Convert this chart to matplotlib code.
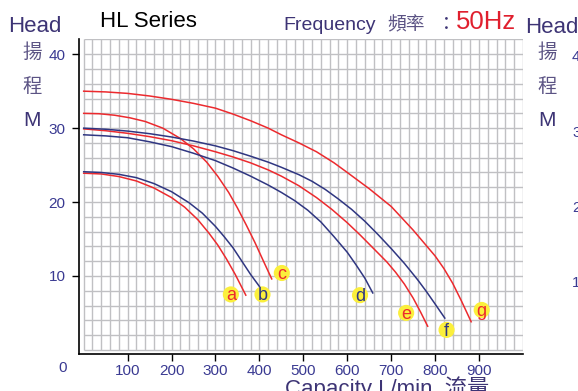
import matplotlib
matplotlib.use('Agg')
import matplotlib.pyplot as plt
import numpy as np

plt.rcParams['font.family'] = ['Liberation Sans', 'Noto Sans CJK TC']

# pump curves, capacity L/min vs head m
a_q = [0, 40, 80, 120, 160, 200, 230, 260, 285, 305, 325, 345, 369]
a_h = [23.9, 23.8, 23.45, 22.85, 21.9, 20.6, 19.3, 17.6, 15.8, 14.2, 12.3, 10.2, 7.4]

b_q = [0, 40, 80, 120, 160, 200, 240, 270, 300, 320, 340, 360, 380, 401]
b_h = [24.1, 24.0, 23.75, 23.3, 22.5, 21.4, 19.9, 18.5, 16.7, 15.3, 13.8, 12.0, 10.2, 8.5]

c_q = [0, 35, 70, 105, 140, 180, 220, 250, 280, 305, 330, 350, 370, 390, 410, 428]
c_h = [32.0, 31.95, 31.75, 31.4, 30.9, 30.0, 28.6, 27.2, 25.4, 23.5, 21.3, 19.2,
       16.9, 14.5, 11.9, 9.6]

d_q = [0, 50, 100, 150, 200, 250, 300, 340, 380, 420, 450, 480, 510, 540, 570,
       600, 620, 640, 658]
d_h = [29.1, 28.95, 28.7, 28.15, 27.5, 26.6, 25.6, 24.6, 23.5, 22.3, 21.3, 20.2,
       18.9, 17.3, 15.3, 13.2, 11.5, 9.7, 7.7]

e_q = [0, 50, 100, 150, 200, 250, 300, 340, 380, 420, 450, 490, 530, 565, 600,
       630, 660, 690, 710, 730, 750, 767, 783]
e_h = [29.9, 29.65, 29.3, 28.85, 28.3, 27.6, 26.8, 26.1, 25.3, 24.35, 23.5, 22.2,
       20.6, 19.0, 17.2, 15.5, 13.7, 11.9, 10.5, 8.9, 7.0, 5.1, 3.2]

f_q = [0, 50, 100, 150, 200, 250, 300, 340, 380, 420, 450, 490, 520, 550, 580,
       610, 640, 670, 700, 730, 760, 780, 800, 822]
f_h = [30.0, 29.85, 29.6, 29.25, 28.8, 28.25, 27.6, 26.95, 26.2, 25.4, 24.7, 23.7,
       22.8, 21.7, 20.4, 19.0, 17.4, 15.6, 13.7, 11.7, 9.5, 7.9, 6.2, 4.3]

g_q = [0, 50, 100, 150, 200, 250, 300, 340, 380, 420, 450, 490, 530, 570, 600,
       650, 700, 750, 780, 800, 820, 840, 860, 882]
g_h = [35.0, 34.9, 34.7, 34.35, 33.9, 33.35, 32.7, 31.9, 31.0, 30.0, 29.1, 28.0,
       26.8, 25.3, 24.0, 21.8, 19.4, 16.2, 14.1, 12.7, 11.0, 9.0, 6.6, 3.8]

names = ['a', 'b', 'c', 'd', 'e', 'f', 'g']
curves = [(a_q, a_h), (b_q, b_h), (c_q, c_h), (d_q, d_h),
          (e_q, e_h), (f_q, f_h), (g_q, g_h)]

x_ticks = [100, 200, 300, 400, 500, 600, 700, 800, 900]
y_ticks = [10, 20, 30, 40]

RED = '#ec2a2e'
NAVY = '#2f3681'
INK = '#3d3475'
TICK = '#3a3a92'
colors = [RED, NAVY, RED, NAVY, RED, NAVY, RED]

W, H = 578, 391
def px(x, y):
    return x / W, 1 - y / H

fig = plt.figure(figsize=(W / 100, H / 100), dpi=100)
ax = fig.add_axes([79.3 / W, (H - 354.3) / H, 443.7 / W, (354.3 - 38.7) / H])
ax.set_xlim(-10, 1000)
ax.set_ylim(-0.6, 42.1)

# fine grid: 20 L/min by 2 m
ax.vlines(np.arange(0, 1001, 20), 0, 42, color='#c0c0c3', lw=1.0, zorder=0)
ax.hlines(np.arange(0, 43, 2), 0, 1000, color='#c0c0c3', lw=1.0, zorder=0)

for (q, h), col in zip(curves, colors):
    ax.plot(q, h, color=col, lw=1.1, zorder=3, solid_joinstyle='round')

# curve letters in yellow dots
lab_x = [335, 407, 451, 629, 734, 826, 906]
lab_y = [7.5, 7.5, 10.4, 7.4, 5.0, 2.7, 5.4]
ax.scatter(lab_x, lab_y, s=135, color='#fbef3c', edgecolors='none', zorder=4)
for n, x, y, col in zip(names, lab_x, lab_y, colors):
    ax.text(x, y - 0.2, n, color=col, fontsize=13, ha='center', va='center', zorder=5)

for s in ['top', 'right']:
    ax.spines[s].set_visible(False)
for s in ['left', 'bottom']:
    ax.spines[s].set_linewidth(1.2)

ax.set_xticks(x_ticks)
ax.set_yticks(y_ticks)
ax.tick_params(axis='both', direction='out', length=5, width=1, labelsize=11,
               labelcolor=TICK)
ax.tick_params(axis='y', pad=5)
ax.tick_params(axis='x', pad=2)
ax.text(-49, -2.5, '0', color=TICK, fontsize=11, ha='center', va='center', clip_on=False)

# header
fig.text(*px(8, 32), 'Head', color=INK, fontsize=16, va='baseline')
fig.text(*px(100, 27), 'HL Series', color='black', fontsize=16, va='baseline')
fig.text(*px(283, 30), 'Frequency', color=INK, fontsize=14, va='baseline')
fig.text(*px(387, 30), '頻率', color='#5b5384', fontsize=13.5, va='baseline')
fig.text(*px(437, 30), '：', color=INK, fontsize=13.5, va='baseline')
fig.text(*px(456, 29), '50Hz', color='#e0202e', fontsize=18.5, va='baseline')
fig.text(*px(525, 33), 'Head', color=INK, fontsize=16, va='baseline')

for cx in [32, 547]:
    fig.text(*px(cx, 53), '揚', color='#5b5384', fontsize=14, ha='center', va='center')
    fig.text(*px(cx, 87), '程', color='#5b5384', fontsize=14, ha='center', va='center')
    fig.text(*px(cx, 120), 'M', color=INK, fontsize=15, ha='center', va='center')

# left edge of the neighbouring scale
for lbl, cy in zip(['40', '30', '20', '10'], [57, 133, 208, 283]):
    fig.text(*px(572, cy), lbl, color=TICK, fontsize=11, ha='left', va='center')

fig.text(*px(285, 395), 'Capacity L/min  流量', color=INK, fontsize=16, va='baseline')

fig.savefig('out.png', dpi=100)
